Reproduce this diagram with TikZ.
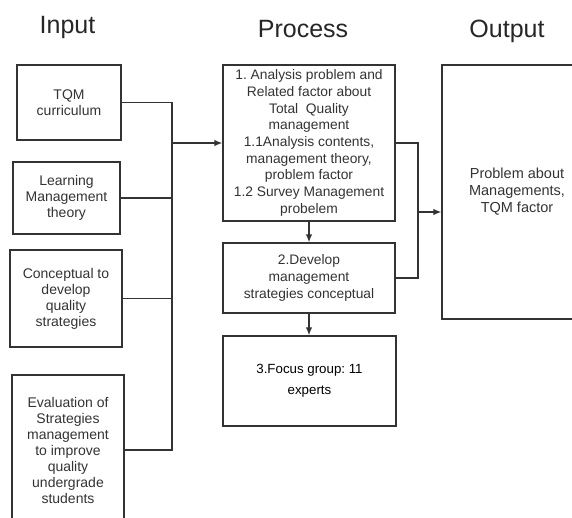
\documentclass[tikz,border=0pt]{standalone}
\usepackage{fontspec}
\setmainfont{Liberation Sans}
\usetikzlibrary{arrows.meta}
\definecolor{linegray}{HTML}{333333}
\definecolor{textgray}{HTML}{333333}
\frenchspacing
\begin{document}
\begin{tikzpicture}[x=1pt,y=-1pt]
			\tikzset{box/.style = {draw=linegray, line width=1.3pt, align=center, inner sep=2pt, text=textgray, font=\fontsize{14}{16}\selectfont}}
			\tikzset{title/.style = {anchor=base, text=black!85, font=\fontsize{25}{30}\selectfont}}
			\tikzset{link/.style = {draw=linegray, line width=1.3pt}}
			\tikzset{edge/.style = {link, -{Latex[length=8pt,width=6.5pt]}}}
			\useasboundingbox (0,0) rectangle (572,517);
			% Column titles
			\node[title] (tin) at (67.5,33) {Input};
			\node[title] (tpro) at (303,37) {Process};
			\node[title] (tout) at (507,37) {Output};
			% Input column
			\node[box, minimum width=104pt, minimum height=75pt] (tqm) at (69,102.5) {TQM\\curriculum};
			\node[box, minimum width=107pt, minimum height=72pt] (lmt) at (66.5,198) {Learning\\Management\\theory};
			\node[box, minimum width=112pt, minimum height=97pt] (conc) at (66,298.5) {Conceptual to\\develop\\quality\\strategies};
			\node[box, minimum width=112pt, minimum height=150pt] (eval) at (68,450) {Evaluation of\\Strategies\\management\\to improve\\quality\\undergrade\\students};
			% Process column
			\node[box, minimum width=172pt, minimum height=156pt, font=\fontsize{13.8}{16.7}\selectfont] (ana) at (309,143) {1. Analysis problem and\\Related factor about\\Total\ \ Quality\\management\\1.1Analysis contents,\\management theory,\\problem factor\\1.2 Survey Management\\probelem};
			\node[box, minimum width=172pt, minimum height=70pt, font=\fontsize{13.8}{16.7}\selectfont] (dev) at (309,278) {2.Develop\\management\\strategies conceptual};
			\node[box, minimum width=173pt, minimum height=90pt, text=black, font=\fontsize{13.3}{21}\selectfont] (focus) at (309.5,381) {3.Focus group: 11\\experts};
			% Output column
			\node[box, minimum width=150pt, minimum height=254pt, font=\fontsize{14.5}{17}\selectfont] (res) at (517,192) {Problem about\\Managements,\\TQM factor};
			% Connectors
			\coordinate (bus) at (172,143);
			\coordinate (join) at (418,212);
			\draw[link] (tqm.east) -| (bus);
			\draw[link] (lmt.east) -| (bus);
			\draw[link] (conc.east) -| (bus);
			\draw[link] (eval.east) -| (bus);
			\draw[edge] (bus) -- (ana.west);
			\draw[edge] (ana.south) -- (dev.north);
			\draw[edge] (dev.south) -- (dev.south |- focus.north);
			\draw[link] (ana.east) -| (join);
			\draw[link] (dev.east) -| (join);
			\draw[edge] (join) -- (join -| res.west);
		\end{tikzpicture}
\end{document}
